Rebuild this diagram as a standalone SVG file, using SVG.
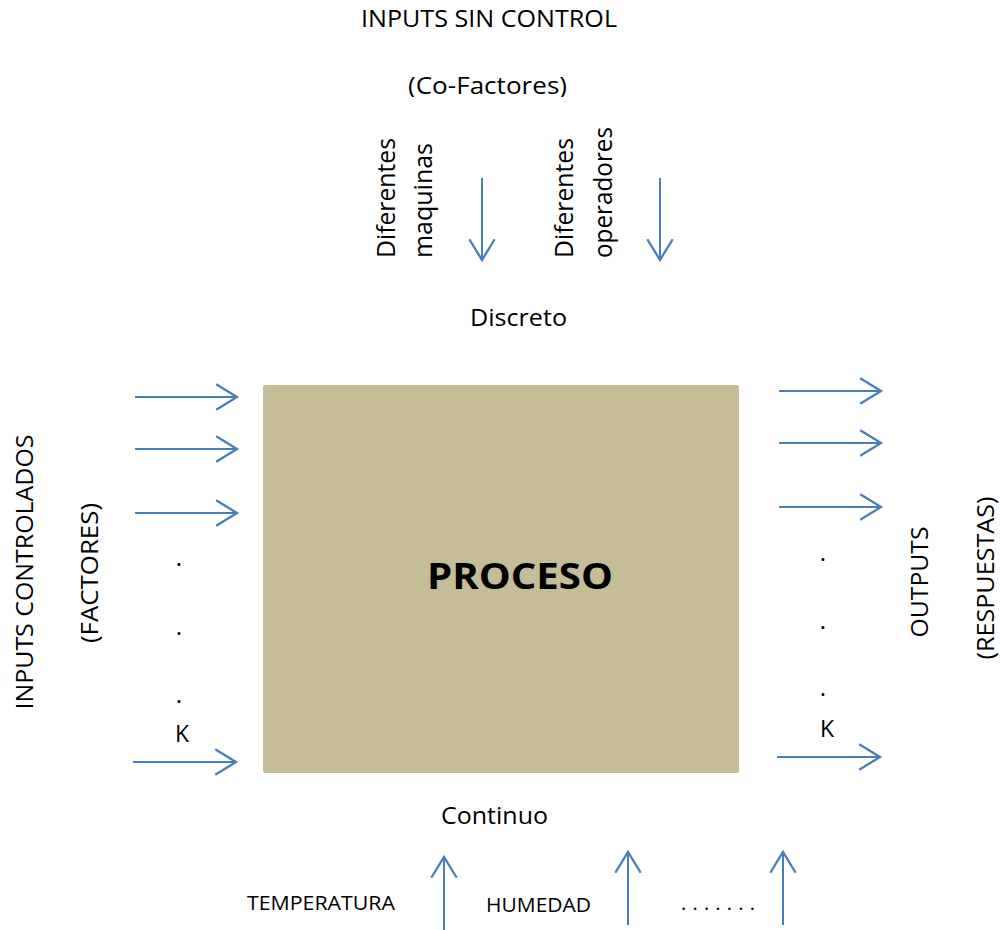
<svg xmlns="http://www.w3.org/2000/svg" width="1000" height="930" viewBox="0 0 1000 930">
  <style>
    .t { font-family: "Open Sans", "Liberation Sans", sans-serif; fill: #000; }
    .c { stroke: #4A7EBB; stroke-width: 2; fill: none; marker-end: url(#ah); }
  </style>
  <defs>
    <marker id="ah" markerUnits="userSpaceOnUse" markerWidth="30" markerHeight="30" viewBox="-20 -13 22 26" refX="0" refY="0" orient="auto" overflow="visible">
      <path d="M-18,-11 L0,0 L-18,11" fill="none" stroke="#4A7EBB" stroke-width="2"/>
    </marker>
    <clipPath id="cf"><rect x="0" y="0" width="1000" height="97"/></clipPath>
  </defs>
  <rect width="1000" height="930" fill="#fff"/>

  <g id="top-labels">
    <text class="t" x="361" y="27" font-size="24" textLength="256" lengthAdjust="spacingAndGlyphs">INPUTS SIN CONTROL</text>
    <text class="t" x="408" y="94" font-size="24" textLength="159" lengthAdjust="spacingAndGlyphs" clip-path="url(#cf)">(Co-Factores)</text>
    <text class="t" font-size="25" transform="translate(395,258) rotate(-90)" textLength="120" lengthAdjust="spacingAndGlyphs">Diferentes</text>
    <text class="t" font-size="25" transform="translate(432,258) rotate(-90)" textLength="115" lengthAdjust="spacingAndGlyphs">maquinas</text>
    <text class="t" font-size="25" transform="translate(573,258) rotate(-90)" textLength="120" lengthAdjust="spacingAndGlyphs">Diferentes</text>
    <text class="t" font-size="25" transform="translate(612,258) rotate(-90)" textLength="131" lengthAdjust="spacingAndGlyphs">operadores</text>
    <text class="t" x="470" y="326" font-size="24" textLength="97" lengthAdjust="spacingAndGlyphs">Discreto</text>
  </g>

  <g id="proceso">
    <rect x="263" y="385" width="476" height="388" rx="2" fill="#C4BD97"/>
    <text class="t" x="427" y="589" font-size="35" font-weight="bold" textLength="186" lengthAdjust="spacingAndGlyphs">PROCESO</text>
  </g>

  <g id="inputs-controlados">
    <text class="t" font-size="24" text-anchor="middle" transform="translate(33,572) rotate(-90)" textLength="275" lengthAdjust="spacingAndGlyphs">INPUTS CONTROLADOS</text>
    <text class="t" font-size="24" text-anchor="middle" transform="translate(98,573) rotate(-90)" textLength="140" lengthAdjust="spacingAndGlyphs">(FACTORES)</text>
    <text class="t" x="179" y="566" font-size="24" text-anchor="middle">.</text>
    <text class="t" x="179" y="635" font-size="24" text-anchor="middle">.</text>
    <text class="t" x="179" y="703" font-size="24" text-anchor="middle">.</text>
    <text class="t" x="182" y="742" font-size="23" text-anchor="middle">K</text>
  </g>

  <g id="outputs">
    <text class="t" font-size="24" text-anchor="middle" transform="translate(928,582) rotate(-90)" textLength="111" lengthAdjust="spacingAndGlyphs">OUTPUTS</text>
    <text class="t" font-size="24" text-anchor="middle" transform="translate(994,578) rotate(-90)" textLength="163" lengthAdjust="spacingAndGlyphs">(RESPUESTAS)</text>
    <text class="t" x="823" y="561" font-size="24" text-anchor="middle">.</text>
    <text class="t" x="823" y="629" font-size="24" text-anchor="middle">.</text>
    <text class="t" x="823" y="696" font-size="24" text-anchor="middle">.</text>
    <text class="t" x="827" y="737" font-size="23" text-anchor="middle">K</text>
  </g>

  <g id="bottom-labels">
    <text class="t" x="441" y="824" font-size="24" textLength="107" lengthAdjust="spacingAndGlyphs">Continuo</text>
    <text class="t" x="247" y="910" font-size="20" textLength="148" lengthAdjust="spacingAndGlyphs">TEMPERATURA</text>
    <text class="t" x="486" y="912" font-size="20" textLength="105" lengthAdjust="spacingAndGlyphs">HUMEDAD</text>
    <text class="t" x="681" y="910" font-size="20" textLength="74" lengthAdjust="spacing">. . . . . . .</text>
  </g>

  <g id="connectors">
    <line class="c" x1="482" y1="178" x2="482" y2="260"/>
    <line class="c" x1="660" y1="178" x2="660" y2="260"/>
    <line class="c" x1="135" y1="397" x2="237" y2="397"/>
    <line class="c" x1="135" y1="449" x2="237" y2="449"/>
    <line class="c" x1="135" y1="513" x2="237" y2="513"/>
    <line class="c" x1="133" y1="762" x2="236" y2="762"/>
    <line class="c" x1="779" y1="391" x2="881" y2="391"/>
    <line class="c" x1="779" y1="443" x2="881" y2="443"/>
    <line class="c" x1="779" y1="507" x2="881" y2="507"/>
    <line class="c" x1="777" y1="757" x2="880" y2="757"/>
    <line class="c" x1="444" y1="930" x2="444" y2="857"/>
    <line class="c" x1="628" y1="925" x2="628" y2="852"/>
    <line class="c" x1="783" y1="925" x2="783" y2="852"/>
  </g>
</svg>
